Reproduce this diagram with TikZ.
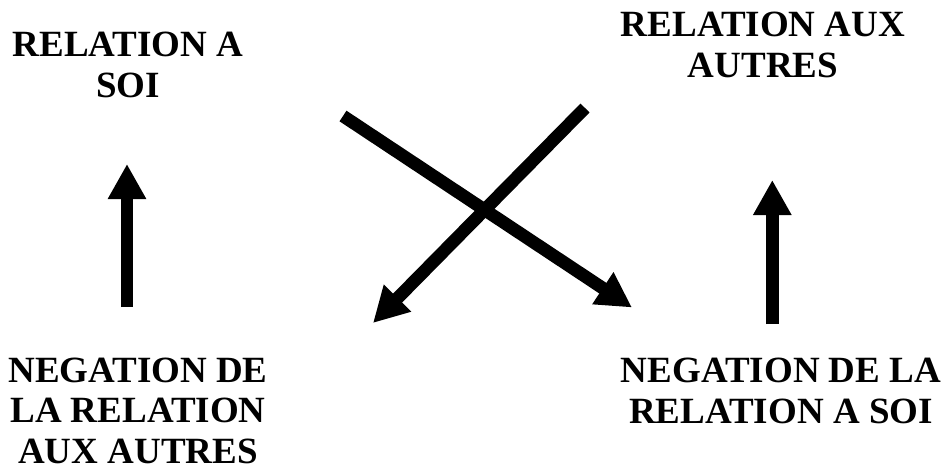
\documentclass[tikz,border=0pt]{standalone}
\usepackage{fontspec}
\setmainfont{Liberation Serif}
\usetikzlibrary{arrows.meta,positioning}

\begin{document}
\begin{tikzpicture}[x=1pt, y=-1pt,
  lbl/.style={align=center, inner sep=0pt, anchor=north,
    font=\fontsize{37}{40.5}\selectfont\bfseries},
  fat/.style={line width=12.7pt, line cap=butt,
    -{Triangle[length=35pt, width=36pt]}}]
\useasboundingbox (0,0) rectangle (950,474);
\node[lbl] (soi) at (128,32) {RELATION A\\SOI};
\node[lbl] (autres) at (763,12) {RELATION AUX\\AUTRES};
\node[lbl] (negautres) at (138,357.5) {NEGATION DE\\LA RELATION\\AUX AUTRES};
\node[lbl] (negsoi) at (781,358) {NEGATION DE LA\\RELATION A SOI};
% free ends of the arrows
\coordinate (l0) at (127,307);  \coordinate (l1) at (127,164);
\coordinate (r0) at (772.3,324); \coordinate (r1) at (772.3,180);
\coordinate (d0) at (343,116);  \coordinate (d1) at (632,307.5);
\coordinate (e0) at (585,108);  \coordinate (e1) at (373,323);
\draw[fat] (l0) -- (l1);
\draw[fat] (r0) -- (r1);
\draw[fat] (d0) -- (d1);
\draw[fat] (e0) -- (e1);
\end{tikzpicture}
\end{document}
